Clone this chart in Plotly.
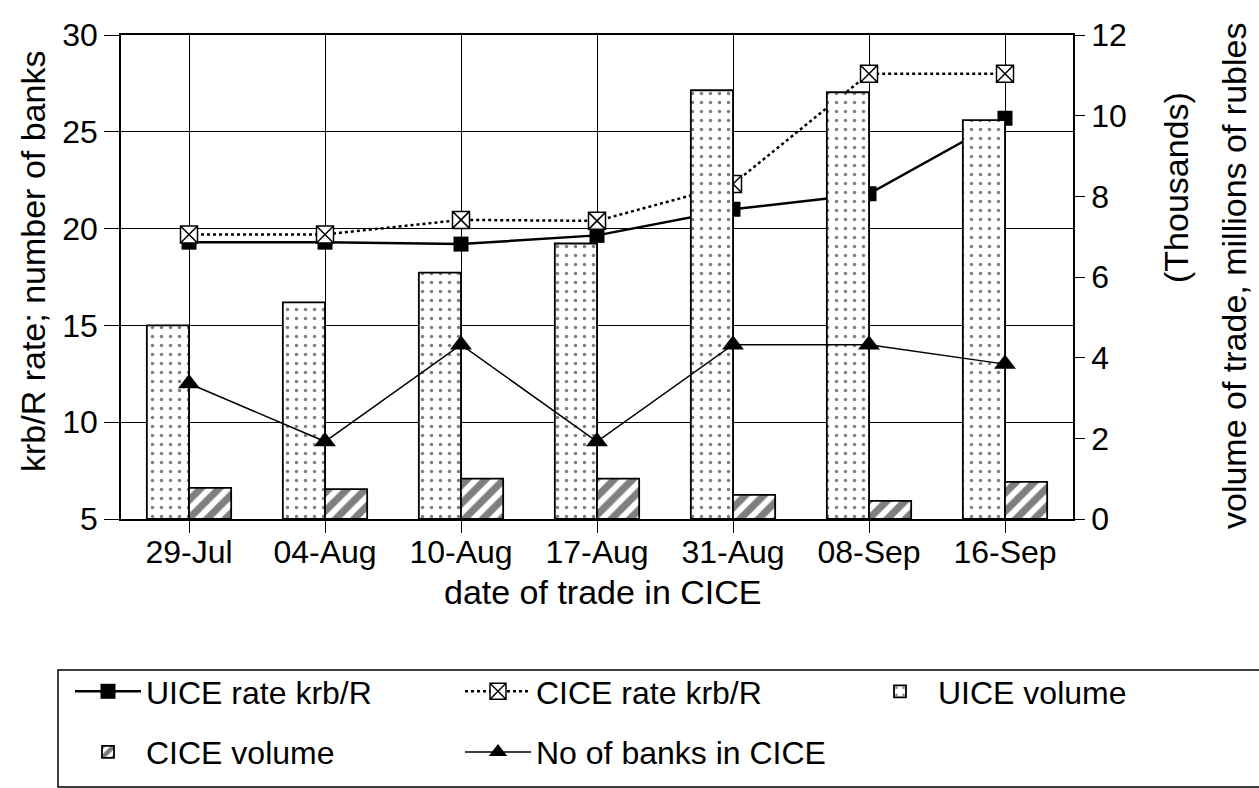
import plotly.graph_objects as go

# Trade dates in CICE
dates = ["29-Jul", "04-Aug", "10-Aug", "17-Aug", "31-Aug", "08-Sep", "16-Sep"]

# Exchange rates, krb per rouble (left axis)
uice_rate = [19.3, 19.3, 19.2, 19.65, 21.0, 21.8, 25.7]
cice_rate = [19.7, 19.7, 20.45, 20.4, 22.3, 28.0, 28.0]

# Number of banks trading in CICE (left axis)
cice_banks = [12, 9, 14, 9, 14, 14, 13]

# Volume of trade, thousands of millions of roubles (right axis)
uice_volume = [4.8, 5.37, 6.11, 6.83, 10.63, 10.58, 9.89]
cice_volume = [0.77, 0.74, 1.0, 1.0, 0.6, 0.45, 0.92]

FONT = "Liberation Sans, Arial, sans-serif"
W, H = 1259, 788
PL, PR, PT, PB = 121, 1073, 35, 519  # plot area in pixels


def px_x(x):
    return (x - PL) / (PR - PL)


def px_y(y):
    return (PB - y) / (PB - PT)


fig = go.Figure()

# Rate lines on the base axes (drawn beneath the volume bars)
fig.add_trace(go.Scatter(
    x=dates, y=uice_rate, name="UICE rate krb/R", mode="lines+markers",
    line=dict(color="black", width=2.5),
    marker=dict(symbol="square", size=15, color="black"),
    legend="legend", legendgroup="a",
))
fig.add_trace(go.Scatter(
    x=dates, y=cice_rate, name="CICE rate krb/R", mode="lines+markers",
    line=dict(color="black", width=2.5, dash="dot"),
    marker=dict(symbol="square-x", size=17, color="white",
                line=dict(color="black", width=1.5)),
    legend="legend2", legendgroup="c",
))

# Volume bars on the right axis
fig.add_trace(go.Bar(
    x=dates, y=uice_volume, name="UICE volume", yaxis="y2",
    marker=dict(color="white", line=dict(color="black", width=1.8),
                pattern=dict(shape=".", fgcolor="black", bgcolor="white",
                             size=9, solidity=0.12)),
    legend="legend3", legendgroup="e",
))
fig.add_trace(go.Bar(
    x=dates, y=cice_volume, name="CICE volume", yaxis="y2",
    marker=dict(color="white", line=dict(color="black", width=1.8),
                pattern=dict(shape="/", fgcolor="black", bgcolor="white",
                             size=13, solidity=0.55)),
    legend="legend", legendgroup="b",
))

# Bank count on top of everything
fig.add_trace(go.Scatter(
    x=dates, y=cice_banks, name="No of banks in CICE", yaxis="y3",
    mode="lines+markers",
    line=dict(color="black", width=1.5),
    marker=dict(symbol="triangle-up", size=19, color="black"),
    legend="legend2", legendgroup="d",
))

tick_font = dict(family=FONT, size=32, color="black")
title_font = dict(family=FONT, size=34, color="black")
legend_common = dict(
    font=dict(family=FONT, size=32, color="black"),
    bgcolor="rgba(0,0,0,0)", borderwidth=0,
    orientation="v", xanchor="left", yanchor="top",
    tracegroupgap=16, itemwidth=66,
)

fig.update_layout(
    width=W, height=H, autosize=False,
    margin=dict(l=PL, r=W - PR, t=PT, b=H - PB, autoexpand=False),
    paper_bgcolor="white", plot_bgcolor="white",
    font=dict(family=FONT, size=32, color="black"),
    barmode="group", bargap=0.38, bargroupgap=0,
    xaxis=dict(
        type="category", showgrid=True, gridcolor="black", gridwidth=1,
        ticks="outside", ticklen=12, tickcolor="black", tickwidth=1,
        ticklabelstandoff=-8,
        showline=True, linecolor="black", linewidth=1.5, mirror=True,
        tickfont=tick_font,
    ),
    yaxis=dict(
        range=[5, 30], dtick=5, showgrid=True, gridcolor="black", gridwidth=1,
        ticks="outside", ticklen=15, tickcolor="black",
        showline=True, linecolor="black", linewidth=1.5,
        tickfont=tick_font, zeroline=False,
    ),
    yaxis2=dict(
        overlaying="y", side="right", range=[0, 12], dtick=2,
        showgrid=False, zeroline=False,
        ticks="outside", ticklen=10, tickcolor="black",
        showline=True, linecolor="black", linewidth=1.5,
        tickfont=tick_font,
    ),
    yaxis3=dict(overlaying="y", range=[5, 30], visible=False),
    legend=dict(x=px_x(70), y=px_y(664), **legend_common),
    legend2=dict(x=px_x(460), y=px_y(664), **legend_common),
    legend3=dict(x=px_x(862), y=px_y(664), **legend_common),
    shapes=[dict(
        type="rect", xref="paper", yref="paper",
        x0=px_x(58), x1=px_x(1300), y0=px_y(787), y1=px_y(670),
        line=dict(color="black", width=1.5), fillcolor="rgba(0,0,0,0)",
    )],
    annotations=[
        dict(text="date of trade in CICE", xref="paper", yref="paper",
             x=px_x(603), y=px_y(592), showarrow=False,
             xanchor="center", yanchor="middle", font=title_font),
        dict(text="krb/R rate; number of banks", xref="paper", yref="paper",
             x=px_x(33), y=px_y(262), showarrow=False, textangle=-90,
             xanchor="center", yanchor="middle", font=title_font),
        dict(text="(Thousands)", xref="paper", yref="paper",
             x=px_x(1176), y=px_y(188), showarrow=False, textangle=-90,
             xanchor="center", yanchor="middle", font=title_font),
        dict(text="volume of trade, millions of rubles", xref="paper",
             yref="paper", x=px_x(1234), y=px_y(276), showarrow=False,
             textangle=-90, xanchor="center", yanchor="middle",
             font=title_font),
    ],
)

fig.write_html("out.html")
